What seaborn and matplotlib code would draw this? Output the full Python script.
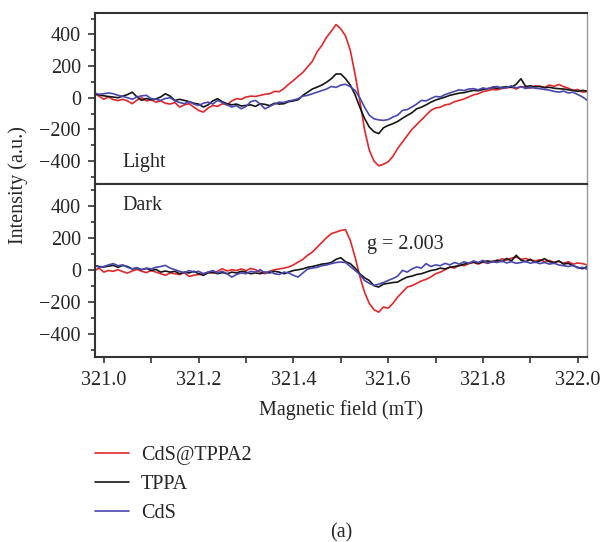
import numpy as np
import pandas as pd
import seaborn as sns
import matplotlib.pyplot as plt
from matplotlib.ticker import MultipleLocator

# magnetic field grid (mT), 0.01 mT steps
field = np.round(np.linspace(320.98, 322.02, 105), 2)

samples = ["CdS@TPPA2", "TPPA", "CdS"]
colors = ["#e3262a", "#151515", "#4747b0"]

light_cds_tppa2 = [
    25, 10, -10, 5, -12, -18, -10, -20, -38, -15,
    0, -20, -12, -28, -20, -35, -40, -30, -59, -45,
    -38, -60, -80, -91, -65, -49, -55, -38, -45, -20,
    -6, -10, 4, 10, 8, 15, 22, 25, 40, 38,
    58, 85, 109, 135, 160, 195, 230, 290, 330, 382,
    420, 462, 435, 390, 300, 150, -17, -200, -330, -400,
    -430, -420, -405, -370, -320, -280, -240, -200, -170, -140,
    -110, -80, -65, -60, -45, -40, -25, -17, -8, 5,
    18, 25, 38, 45, 52, 50, 58, 62, 67, 55,
    70, 67, 60, 75, 71, 65, 80, 72, 84, 70,
    60, 46, 52, 35, 40,
]
light_tppa = [
    25, 18, 12, 8, 4, 0, 10, 20, 35, 5,
    -17, -5, -13, -8, 5, 25, 10, -17, -10, -17,
    -25, -35, -40, -59, -45, -20, -6, -25, -38, -45,
    -40, -52, -49, -45, -55, -38, -42, -50, -35, -40,
    -38, -25, -20, -13, 15, 35, 55, 67, 80, 98,
    120, 150, 150, 120, 80, 20, -59, -130, -185, -215,
    -227, -190, -175, -164, -150, -130, -112, -95, -70, -60,
    -45, -28, -15, -5, 4, 15, 22, 29, 32, 40,
    46, 44, 52, 58, 63, 60, 66, 70, 65, 85,
    120, 71, 75, 68, 72, 63, 66, 60, 57, 55,
    50, 46, 40, 46, 42,
]
light_cds = [
    29, 22, 25, 30, 25, 15, 8, 0, -10, 5,
    12, 15, -6, -10, -17, -5, 0, -20, -30, -38,
    -25, -40, -49, -35, -28, -40, -17, -30, -45, -59,
    -50, -70, -55, -25, -17, -40, -70, -55, -40, -28,
    -30, -20, -15, -6, 10, 15, 25, 35, 45, 55,
    71, 65, 80, 85, 70, 46, 0, -59, -110, -133,
    -140, -143, -138, -122, -110, -80, -75, -59, -40, -17,
    -20, -5, 8, 5, 20, 30, 40, 50, 45, 55,
    57, 50, 62, 55, 68, 71, 60, 65, 75, 62,
    70, 58, 66, 60, 57, 52, 48, 40, 35, 42,
    30, 35, 20, 5, -17,
]
dark_cds_tppa2 = [
    -6, 10, -15, -5, -10, 0, -12, -21, -8, 2,
    -10, -18, -5, -15, -25, -35, -20, -25, -30, -18,
    -42, -35, -30, -25, -15, -22, -10, 6, -8, 0,
    -5, 5, -6, 8, 0, -15, -25, -10, 0, 5,
    10, 17, 30, 48, 65, 90, 110, 140, 170, 200,
    225, 235, 245, 250, 183, 80, -40, -140, -210, -250,
    -265, -233, -240, -210, -171, -140, -108, -100, -85, -70,
    -60, -45, -25, -15, 0, 17, 10, 30, 25, 38,
    45, 35, 48, 40, 55, 50, 69, 60, 72, 79,
    65, 70, 60, 55, 62, 50, 58, 45, 52, 40,
    50, 35, 42, 38, 30,
]
dark_tppa = [
    27, 20, 17, 22, 27, 15, 27, 20, 5, 10,
    0, 8, -5, 2, -15, -8, -15, -10, -25, -15,
    -20, -10, -25, -35, -20, -15, -25, -18, -25, -15,
    -20, -10, -15, -25, -20, -25, -15, -20, -10, -15,
    -25, -15, -5, 0, 5, 15, 20, 27, 35, 38,
    45, 65, 75, 50, 38, 10, -25, -50, -67, -100,
    -108, -90, -85, -80, -77, -60, -46, -40, -30, -25,
    -15, -5, 0, 10, 5, 15, 20, 25, 35, 40,
    48, 40, 50, 55, 48, 60, 50, 70, 55, 90,
    60, 50, 65, 45, 55, 69, 50, 45, 55, 35,
    40, 25, 15, 6, 20,
]
dark_cds = [
    27, 15, 20, 30, 38, 25, 30, 15, 5, 12,
    0, 10, 5, 15, 20, 27, 10, 0, -10, -20,
    -5, -15, -10, -25, -15, -5, -20, -10, -25, -46,
    -30, -20, -25, -10, -15, 0, -20, -10, -25, -30,
    -15, -20, -35, -46, -20, 4, 10, 15, 25, 30,
    38, 45, 48, 45, 20, -4, -30, -67, -85, -98,
    -90, -80, -67, -55, -40, -4, -15, 5, 17, 10,
    38, 20, 30, 25, 40, 30, 45, 35, 50, 40,
    55, 45, 58, 40, 50, 45, 55, 42, 50, 40,
    45, 52, 40, 48, 38, 45, 35, 40, 30, 25,
    20, 28, 10, 15, 2,
]

rows = []
for panel, series in [("Light", [light_cds_tppa2, light_tppa, light_cds]),
                      ("Dark", [dark_cds_tppa2, dark_tppa, dark_cds])]:
    for name, vals in zip(samples, series):
        for f, v in zip(field, vals):
            rows.append((panel, name, f, v))
df = pd.DataFrame(rows, columns=["panel", "sample", "field", "intensity"])

sns.set_style("ticks")
plt.rcParams["font.family"] = ["Liberation Serif", "DejaVu Serif"]
fs = 14.5
plt.rcParams["font.size"] = fs

fig = plt.figure(figsize=(6, 5.42), dpi=100)
ax1 = fig.add_axes([0.158, 0.6605, 0.82, 0.3155])
ax2 = fig.add_axes([0.158, 0.3413, 0.82, 0.3192])
pal = dict(zip(samples, colors))

for ax, panel in [(ax1, "Light"), (ax2, "Dark")]:
    sub = df[df["panel"] == panel]
    sns.lineplot(data=sub, x="field", y="intensity", hue="sample",
                 hue_order=samples, palette=pal, ax=ax, legend=False,
                 estimator=None, sort=False, linewidth=1.2)
    ax.set_xlim(320.981, 322.019)
    ax.set_ylim(-545, 535)
    ax.yaxis.set_major_locator(MultipleLocator(200))
    ax.yaxis.set_minor_locator(MultipleLocator(100))
    ax.xaxis.set_major_locator(MultipleLocator(0.2))
    ax.xaxis.set_minor_locator(MultipleLocator(0.1))
    ax.set_xlabel("")
    ax.set_ylabel("")
    ax.tick_params(axis="y", which="major", direction="out", length=5,
                   width=1.2, color="#333333", labelsize=fs, pad=5)
    ax.tick_params(axis="y", which="minor", direction="out", length=3,
                   width=1.2, color="#333333")
    for side in ["left", "bottom", "top"]:
        ax.spines[side].set_color("#333333")
        ax.spines[side].set_linewidth(1.5)
    ax.spines["right"].set_color("#9a9a9a")
    ax.spines["right"].set_linewidth(1.0)

# top panel: ticks on its bottom edge, no labels
ax1.tick_params(axis="x", which="both", direction="out", length=5, width=1.2,
                color="#333333", labelbottom=False)
ax2.tick_params(axis="x", which="both", direction="out", length=4, width=1.2,
                color="#333333", labelsize=fs, pad=6)
ax2.set_xlabel("Magnetic field (mT)", fontsize=fs, labelpad=7)

ax1.text(321.04, -410, "Light", fontsize=fs, va="center")
ax2.text(321.04, 400, "Dark", fontsize=fs, va="center")
ax2.text(321.555, 158, "g = 2.003", fontsize=fs, va="center")

fig.text(0.03, 1 - 185 / 542, "Intensity (a.u.)", rotation=90,
         ha="center", va="center", fontsize=fs)

handles = ax1.get_lines()[:3]
fig.legend(handles, samples, loc="upper left", bbox_to_anchor=(0.158, 0.178),
           frameon=False, fontsize=fs, handlelength=1.7, handletextpad=0.6,
           labelspacing=0.5, borderpad=0, borderaxespad=0)
fig.text(341 / 600, 1 - 533 / 542, "(a)", ha="center", va="center", fontsize=fs)

plt.savefig("out.png", dpi=100)
